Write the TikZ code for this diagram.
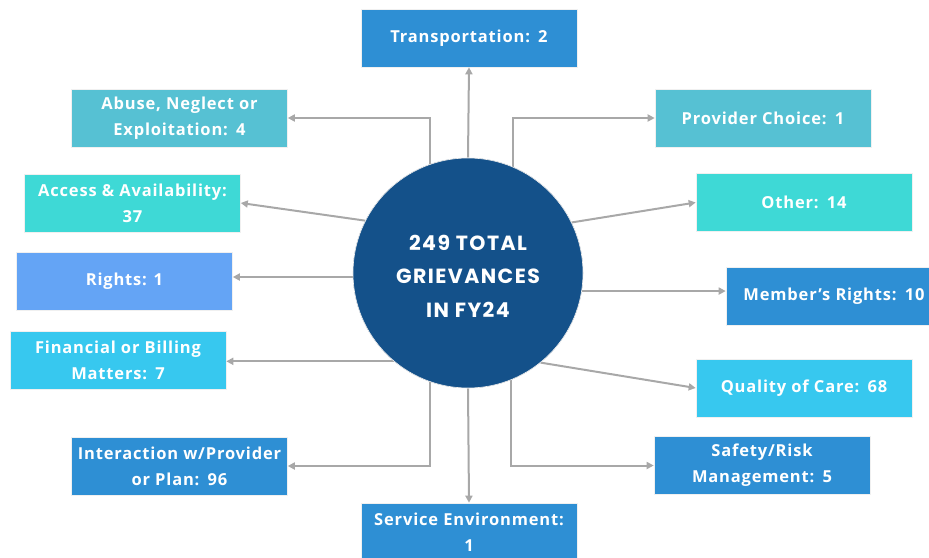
\documentclass[tikz,border=0pt]{standalone}
\usepackage{fontspec}
\setmainfont{Open Sans}
\newfontfamily\boxfont[LetterSpace=5]{Open Sans}
\newfontfamily\hubfont[LetterSpace=7]{Poppins}
\usetikzlibrary{arrows.meta}

\definecolor{hubblue}{HTML}{14518A}
\definecolor{midblue}{HTML}{2E8FD4}
\definecolor{tealbox}{HTML}{56C1D3}
\definecolor{turqbox}{HTML}{3ED9D6}
\definecolor{skybox}{HTML}{64A4F5}
\definecolor{cyanbox}{HTML}{37C8EF}
\definecolor{linkgray}{HTML}{A8A8A8}

\tikzset{
  catbox/.style={rectangle, draw=white!88!gray, line width=0.6pt,
    minimum width=216pt, minimum height=58pt, inner sep=2pt,
    text=white, font=\boxfont\fontsize{16.5}{26}\selectfont\bfseries, align=center},
  hub/.style={circle, fill=hubblue, draw=white!85!gray, line width=0.6pt,
    minimum size=230pt, inner sep=0pt},
  hubtext/.style={text=white, align=center,
    font=\hubfont\fontsize{20.5}{33.5}\selectfont\bfseries},
  link/.style={draw=linkgray, line width=2pt,
    -{Triangle[length=7pt,width=7pt]}}
}

\begin{document}
\begin{tikzpicture}[x=1pt,y=-1pt]
  \useasboundingbox (0,0) rectangle (929,557);
  \clip (0,0) rectangle (929,557);

  % category boxes
  \node[catbox, fill=midblue] (trans) at (469,38) {Transportation:\enspace 2};
  \node[catbox, fill=tealbox] (abuse) at (179.5,118) {Abuse, Neglect or\\Exploitation:\enspace 4};
  \node[catbox, fill=turqbox] (access) at (132.5,203) {Access \& Availability:\\37};
  \node[catbox, fill=skybox] (rights) at (124.5,281.5) {Rights: 1};
  \node[catbox, fill=cyanbox] (fin) at (118,360.5) {Financial or Billing\\Matters:\enspace 7};
  \node[catbox, fill=midblue] (inter) at (179.5,466) {Interaction w/Provider\\or Plan:\enspace 96};
  \node[catbox, fill=midblue] (service) at (469,532) {Service Environment:\\1};
  \node[catbox, fill=tealbox] (prov) at (763,118) {Provider Choice:\enspace 1};
  \node[catbox, fill=turqbox] (other) at (804,202.5) {Other:\enspace 14};
  \node[catbox, fill=midblue] (member) at (834,296) {Member’s Rights:\enspace 10};
  \node[catbox, fill=cyanbox] (quality) at (804,388) {Quality of Care:\enspace 68};
  \node[catbox, fill=midblue] (safety) at (762,465.5) {Safety/Risk\\Management:\enspace 5};

  % central hub
  \path (468,273) coordinate (hubc);
  \node[hub] (hub) at (hubc) {};

  % connectors from the hub to each category
  \draw[link] (hub.north) -- (trans.south);
  \draw[link] (hub.109) |- (abuse.east);
  \draw[link] (hub.67.5) |- (prov.west);
  \draw[link] (hub.153) -- (access.east);
  \draw[link] (hub.26) -- (other.west);
  \draw[link] (hub.182) -- (hub.182 -| rights.east);
  \draw[link] (hub.-9.5) -- (hub.-9.5 -| member.west);
  \draw[link] (hub.230) -- (hub.230 -| fin.east);
  \draw[link] (hub.-51.6) -- (quality.west);
  \draw[link] (hub.-109) |- (inter.east);
  \draw[link] (hub.-68.6) |- (safety.west);
  \draw[link] (hub.south) -- (service.north);

  % hub disc repainted over the connector roots, then its caption
  \node[hub] (hubdisc) at (hubc) {};
  \node[hubtext] (hubcaption) at ([yshift=-3pt]hubc) {249 TOTAL\\GRIEVANCES\\IN FY24};
\end{tikzpicture}
\end{document}
